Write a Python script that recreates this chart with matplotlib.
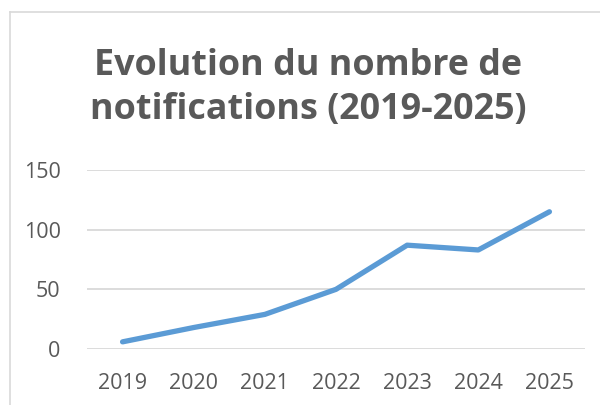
import matplotlib
matplotlib.use("Agg")
import matplotlib.pyplot as plt
from matplotlib.lines import Line2D

years = ["2019", "2020", "2021", "2022", "2023", "2024", "2025"]
notifications = [6, 18, 29, 50, 87, 83, 115]
yticks = [0, 50, 100, 150]
title = "Evolution du nombre de\nnotifications (2019-2025)"

W, H = 600, 405
fig = plt.figure(figsize=(W/100, H/100), dpi=100)
fig.patch.set_facecolor("white")

# outer chart frame (cropped on right and bottom)
fig.add_artist(Line2D([10/W, 10/W], [0, 1 - 12/H], transform=fig.transFigure, color="#D9D9D9", lw=1.2))
fig.add_artist(Line2D([10/W, 1], [1 - 12/H, 1 - 12/H], transform=fig.transFigure, color="#D9D9D9", lw=1.2))

ax = fig.add_axes([87/W, 1 - 349/H, (585 - 87)/W, (349 - 170)/H])
x = list(range(len(years)))
ax.plot(x, notifications, color="#5B9BD5", lw=3.8, solid_capstyle="round", solid_joinstyle="round", zorder=3)
ax.set_xlim(-0.5, len(years) - 0.5)
ax.set_ylim(0, 150)
ax.set_yticks(yticks)
ax.set_xticks(x)
ax.set_xticklabels(years)
for s in ax.spines.values():
    s.set_visible(False)
ax.grid(axis="y", color="#D9D9D9", lw=1.3)
ax.set_axisbelow(True)
ax.tick_params(length=0, labelsize=15.5, labelcolor="#595959")
ax.tick_params(axis="x", pad=17)
ax.tick_params(axis="y", pad=19)
for lab in ax.get_xticklabels() + ax.get_yticklabels():
    lab.set_fontfamily("Open Sans")

fig.text(308/W, 1 - 88/H, title, ha="center", va="center", fontsize=25.8, fontweight="bold",
         color="#595959", family="Open Sans", linespacing=1.3)

fig.savefig("out.png", dpi=100)
